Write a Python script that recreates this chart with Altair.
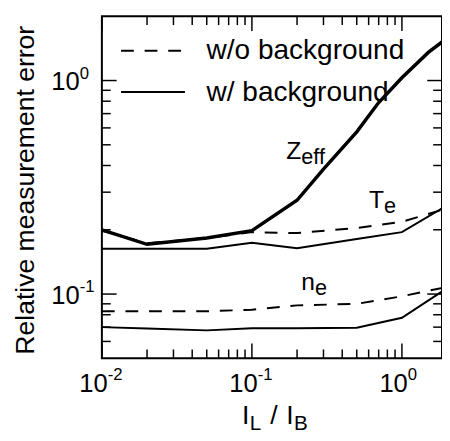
import altair as alt
import pandas as pd

# ---- data ----
x_grid = [0.01, 0.02, 0.05, 0.1, 0.2, 0.5, 1, 2]
te_wo = [0.198, 0.173, 0.183, 0.195, 0.193, 0.204, 0.218, 0.252]
te_w = [0.163, 0.163, 0.163, 0.174, 0.164, 0.181, 0.195, 0.26]
ne_wo = [0.083, 0.083, 0.083, 0.0845, 0.0885, 0.09, 0.0976, 0.108]
ne_w = [0.070, 0.0689, 0.0676, 0.0692, 0.0692, 0.0696, 0.0774, 0.1066]
zeff_x = [0.01, 0.02, 0.05, 0.1, 0.2, 0.3, 0.5, 0.7, 1, 1.5, 2]
zeff_w = [0.2, 0.171, 0.183, 0.198, 0.275, 0.385, 0.575, 0.789, 1.03, 1.354, 1.58]

x_major = [0.01, 0.1, 1]
x_minor = [0.02, 0.03, 0.04, 0.05, 0.06, 0.07, 0.08, 0.09,
           0.2, 0.3, 0.4, 0.5, 0.6, 0.7, 0.8, 0.9]
y_major = [0.1, 1]
y_minor = [0.06, 0.07, 0.08, 0.09, 0.2, 0.3, 0.4, 0.5, 0.6, 0.7, 0.8, 0.9]
x_tick_exp = ["-2", "-1", "0"]
y_tick_exp = ["-1", "0"]

legend_labels = ["w/o background", "w/ background"]
y_title = "Relative measurement error"

label_main = ["Z", "T", "n"]
label_sub = ["eff", "e", "e"]
label_x = [0.2133, 0.7586, 0.2634]
label_y = [0.4268, 0.2525, 0.1043]

FONT = "Liberation Sans"
W, H = 346, 348

rows = []
for xv, yv in zip(x_grid, te_wo):
    rows.append(dict(x=xv, y=yv, series="Te", bg="wo"))
for xv, yv in zip(x_grid, ne_wo):
    rows.append(dict(x=xv, y=yv, series="ne", bg="wo"))
for xv, yv in zip(x_grid, te_w):
    rows.append(dict(x=xv, y=yv, series="Te", bg="w"))
for xv, yv in zip(x_grid, ne_w):
    rows.append(dict(x=xv, y=yv, series="ne", bg="w"))
for xv, yv in zip(zeff_x, zeff_w):
    rows.append(dict(x=xv, y=yv, series="Zeff", bg="w"))
df = pd.DataFrame(rows)

xscale = alt.Scale(type="log", domain=[0.01, 1.85], nice=False)
yscale = alt.Scale(type="log", domain=[0.05, 2], nice=False)


def X(field):
    return alt.X(field, scale=xscale, axis=None)


def Y(field):
    return alt.Y(field, scale=yscale, axis=None)


base = alt.Chart(df)

dashed = base.transform_filter("datum.bg == 'wo'").mark_line(
    color="black", strokeWidth=2, strokeDash=[13, 11], clip=True
).encode(x=X("x:Q"), y=Y("y:Q"), detail="series:N")
solid = base.transform_filter("datum.bg == 'w' && datum.series != 'Zeff'").mark_line(
    color="black", strokeWidth=2, clip=True
).encode(x=X("x:Q"), y=Y("y:Q"), detail="series:N")
thick = base.transform_filter("datum.series == 'Zeff'").mark_line(
    color="black", strokeWidth=3.5, clip=True
).encode(x=X("x:Q"), y=Y("y:Q"))

MAJ, MIN = 15, 9


def xticks(vals, length):
    d = alt.Chart(pd.DataFrame({"v": vals}))
    bottom = d.mark_rule(color="black", strokeWidth=1.5).encode(
        x=X("v:Q"), y=alt.value(H), y2=alt.value(H - length))
    top = d.mark_rule(color="black", strokeWidth=1.5).encode(
        x=X("v:Q"), y=alt.value(0), y2=alt.value(length))
    return [bottom, top]


def yticks(vals, length):
    d = alt.Chart(pd.DataFrame({"v": vals}))
    left = d.mark_rule(color="black", strokeWidth=1.5).encode(
        y=Y("v:Q"), x=alt.value(0), x2=alt.value(length))
    right = d.mark_rule(color="black", strokeWidth=1.5).encode(
        y=Y("v:Q"), x=alt.value(W), x2=alt.value(W - length))
    return [left, right]


ticks = xticks(x_major, MAJ) + xticks(x_minor, MIN) + yticks(y_major, MAJ) + yticks(y_minor, MIN)

frame = alt.Chart(pd.DataFrame({"f": [0]})).mark_rect(
    fillOpacity=0, stroke="black", strokeWidth=2
).encode(x=alt.value(0), x2=alt.value(W), y=alt.value(0), y2=alt.value(H))

# tick labels 10^n
xl = alt.Chart(pd.DataFrame({"v": x_major, "b": ["10"] * len(x_major), "e": x_tick_exp}))
x_lab_base = xl.mark_text(align="right", baseline="alphabetic", font=FONT, fontSize=26,
                          color="black", dx=6).encode(x=X("v:Q"), y=alt.value(H + 34), text="b:N")
x_lab_exp = xl.mark_text(align="left", baseline="alphabetic", font=FONT, fontSize=17,
                         color="black", dx=6).encode(x=X("v:Q"), y=alt.value(H + 22), text="e:N")
yl = alt.Chart(pd.DataFrame({"v": y_major, "b": ["10"] * len(y_major), "e": y_tick_exp}))
y_lab_base = yl.mark_text(align="right", baseline="alphabetic", font=FONT, fontSize=26,
                          color="black", dy=10).encode(y=Y("v:Q"), x=alt.value(-22.5), text="b:N")
y_lab_exp = yl.mark_text(align="left", baseline="alphabetic", font=FONT, fontSize=17,
                         color="black", dy=-2).encode(y=Y("v:Q"), x=alt.value(-22.5), text="e:N")

# y title
yt = alt.Chart(pd.DataFrame({"t": [y_title]})).mark_text(
    angle=270, align="center", baseline="alphabetic", font=FONT, fontSize=27, color="black"
).encode(x=alt.value(-69), y=alt.value(177), text="t:N")

lab_df = pd.DataFrame({"main": label_main, "sub": label_sub, "x": label_x, "y": label_y})
lab_main = alt.Chart(lab_df).mark_text(
    align="right", baseline="alphabetic", font=FONT, fontSize=25, color="black"
).encode(x=X("x:Q"), y=Y("y:Q"), text="main:N")
lab_sub = alt.Chart(lab_df).mark_text(
    align="left", baseline="alphabetic", font=FONT, fontSize=22, color="black", dy=5
).encode(x=X("x:Q"), y=Y("y:Q"), text="sub:N")

# legend
leg0 = alt.Chart(pd.DataFrame({"label": [legend_labels[0]]}))
leg1 = alt.Chart(pd.DataFrame({"label": [legend_labels[1]]}))
leg_dash = leg0.mark_rule(color="black", strokeWidth=2, strokeDash=[13, 11]).encode(
    x=alt.value(19.5), x2=alt.value(81.5), y=alt.value(35))
leg_solid = leg1.mark_rule(color="black", strokeWidth=2).encode(
    x=alt.value(19.5), x2=alt.value(84.5), y=alt.value(77))
leg_t0 = leg0.mark_text(align="left", baseline="middle", font=FONT, fontSize=28.5, color="black").encode(
    x=alt.value(106.5), y=alt.value(35), text="label:N")
leg_t1 = leg1.mark_text(align="left", baseline="middle", font=FONT, fontSize=28.5, color="black").encode(
    x=alt.value(106.5), y=alt.value(77), text="label:N")

# x axis title  I_L / I_B
title_parts = pd.DataFrame({"t": ["I", "L", "/", "I", "B"]})


def tpart(i, align, px, py, size):
    return alt.Chart(title_parts.iloc[[i]]).mark_text(
        align=align, baseline="alphabetic", font=FONT, fontSize=size, color="black"
    ).encode(x=alt.value(px), y=alt.value(py), text="t:N")


xtitle = [
    tpart(0, "right", 150, 415, 27),
    tpart(1, "left", 150.5, 421, 21),
    tpart(2, "center", 175, 415, 27),
    tpart(3, "right", 195, 415, 27),
    tpart(4, "left", 195.5, 421, 21),
]

chart = alt.layer(
    dashed, solid, thick, *ticks, frame,
    x_lab_base, x_lab_exp, y_lab_base, y_lab_exp, yt,
    lab_main, lab_sub,
    leg_dash, leg_solid, leg_t0, leg_t1, *xtitle
).properties(
    width=W, height=H,
    autosize=alt.AutoSizeParams(type="none"),
    padding={"left": 95.5, "top": 4.7, "right": 0, "bottom": 75},
).configure(
    background="white",
    view=alt.ViewConfig(stroke=None),
)

chart.save("out.html", embed_options={"renderer": "svg", "actions": False})
